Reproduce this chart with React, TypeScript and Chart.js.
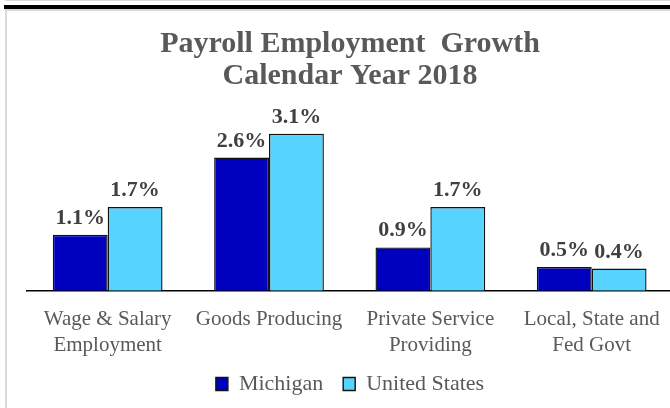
import React, { useEffect, useRef } from "react";
import { Chart, registerables } from "chart.js";

Chart.register(...registerables);

const titleLines = ["Payroll Employment  Growth", "Calendar Year 2018"];
const categories = [
  ["Wage & Salary", "Employment"],
  ["Goods Producing"],
  ["Private Service", "Providing"],
  ["Local, State and", "Fed Govt"],
];
const seriesNames = ["Michigan", "United States"];
const michigan = [1.11, 2.64, 0.86, 0.47];
const unitedStates = [1.66, 3.11, 1.66, 0.44];

const FONT = '"Liberation Serif", "Times New Roman", serif';

const valueLabels = {
  id: "valueLabels",
  afterDatasetsDraw(chart: any) {
    const ctx = chart.ctx;
    ctx.save();
    ctx.font = `bold 22px ${FONT}`;
    ctx.fillStyle = "#404040";
    ctx.textAlign = "center";
    ctx.textBaseline = "alphabetic";
    chart.data.datasets.forEach((ds: any, i: number) => {
      const meta = chart.getDatasetMeta(i);
      meta.data.forEach((el: any, j: number) => {
        const v = ds.data[j] as number;
        ctx.fillText(v.toFixed(1) + "%", el.x, el.y - 11);
      });
    });
    ctx.restore();
  },
};

// Tighten the space taken by the legend below the axis labels.
const legendSpacing = {
  id: "legendSpacing",
  afterInit(chart: any) {
    const legend = chart.legend;
    if (!legend) return;
    const originalFit = legend.fit;
    legend.fit = function fit() {
      originalFit.call(this);
      this.height -= 22;
    };
  },
  afterLayout(chart: any) {
    const legend = chart.legend;
    if (!legend) return;
    legend.top -= 21;
    legend.bottom = chart.height;
    legend.height = legend.bottom - legend.top;
  },
};

export default function App() {
  const ref = useRef<HTMLCanvasElement | null>(null);

  useEffect(() => {
    if (!ref.current) return;
    const chart = new Chart(ref.current, {
      type: "bar",
      data: {
        labels: categories,
        datasets: [
          {
            label: seriesNames[0],
            data: michigan,
            backgroundColor: "#0000BF",
            borderColor: "#111111",
            borderWidth: 1.4,
            categoryPercentage: 0.68,
            barPercentage: 1,
          },
          {
            label: seriesNames[1],
            data: unitedStates,
            backgroundColor: "#57D3FF",
            borderColor: "#111111",
            borderWidth: 1.4,
            categoryPercentage: 0.68,
            barPercentage: 1,
          },
        ],
      },
      options: {
        responsive: false,
        animation: false,
        devicePixelRatio: 1,
        layout: { padding: { left: 27, right: 3, top: 0, bottom: 4 } },
        plugins: {
          title: {
            display: true,
            text: titleLines,
            color: "#595959",
            font: { family: FONT, size: 30, weight: "bold", lineHeight: 1.07 },
            padding: { top: 28, bottom: 22 },
          },
          legend: {
            position: "bottom",
            labels: {
              color: "#595959",
              font: { family: FONT, size: 22 },
              boxWidth: 12,
              boxHeight: 13,
              padding: 20,
            },
          },
          tooltip: { enabled: false },
        },
        scales: {
          x: {
            grid: { display: false, drawTicks: false },
            border: { display: true, color: "#000000", width: 1.5 },
            ticks: {
              color: "#595959",
              font: { family: FONT, size: 21, lineHeight: 1.22 },
              padding: 16,
              maxRotation: 0,
              autoSkip: false,
            },
          },
          y: {
            display: false,
            min: 0,
            max: 3.5,
          },
        },
      },
      plugins: [valueLabels, legendSpacing],
    });
    return () => chart.destroy();
  }, []);

  return (
    <div
      style={{
        position: "fixed",
        left: 0,
        top: 0,
        width: 670,
        height: 408,
        overflow: "hidden",
        background: "#ffffff",
      }}
    >
      <canvas
        ref={ref}
        width={676}
        height={408}
        style={{ position: "absolute", left: 0, top: 0, display: "block" }}
      />
      <div style={{ position: "absolute", left: 5, top: 0, width: 665, height: 1, background: "#d9d9d9" }} />
      <div style={{ position: "absolute", left: 4, top: 5, width: 666, height: 4, background: "#000000" }} />
      <div style={{ position: "absolute", left: 5, top: 9, width: 665, height: 2, background: "#d9d9d9" }} />
      <div style={{ position: "absolute", left: 5, top: 9, width: 2, height: 399, background: "#d9d9d9" }} />
    </div>
  );
}
